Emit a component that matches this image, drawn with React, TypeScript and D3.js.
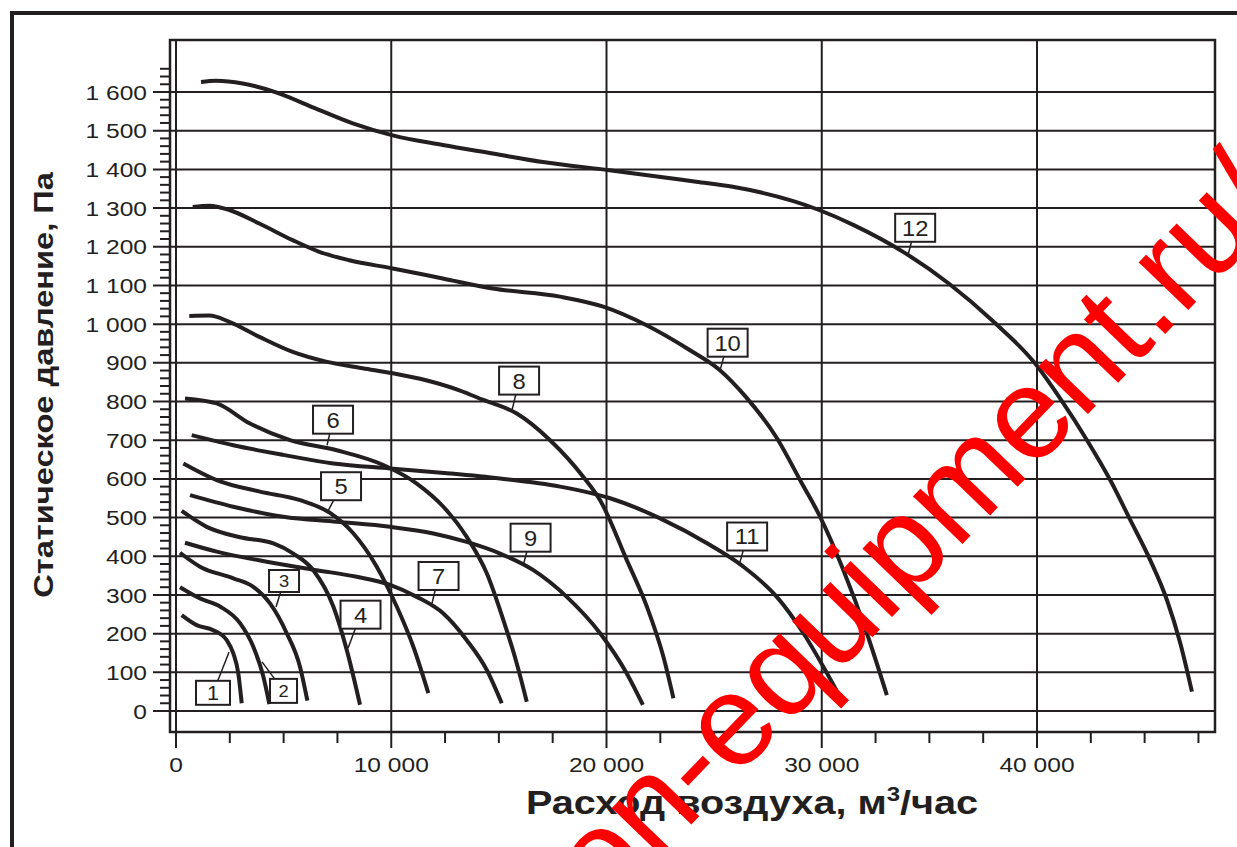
import * as d3 from 'd3';

type Pt = [number, number];

// fan curves: [air flow m3/h, static pressure Pa]
const curve1: Pt[] = [[265, 248], [962, 222], [1733, 209], [2356, 183], [2663, 149], [2895, 97], [3053, 20]];
const curve2: Pt[] = [[186, 320], [1115, 291], [2045, 270], [2974, 227], [3592, 166], [4057, 89], [4336, 18]];
const curve3: Pt[] = [[186, 409], [1115, 373], [2663, 343], [3592, 321], [4368, 278], [5144, 201], [5762, 114], [6103, 27]];
const curve4: Pt[] = [[265, 517], [1427, 476], [2974, 449], [4523, 433], [5451, 407], [6380, 364], [7310, 270], [7932, 158], [8550, 16]];
const curve5: Pt[] = [[340, 640], [1890, 597], [3903, 567], [5762, 545], [7156, 512], [8225, 460], [9326, 373], [10255, 270], [11027, 166], [11724, 46]];
const curve6: Pt[] = [[418, 808], [1891, 795], [3439, 743], [5297, 700], [7467, 674], [9633, 636], [11185, 588], [12421, 528], [13508, 450], [14438, 356], [15209, 235], [15831, 123], [16296, 24]];
const curve7: Pt[] = [[418, 435], [1891, 412], [4215, 386], [6538, 364], [8397, 347], [9944, 326], [11185, 295], [12421, 252], [13508, 183], [14438, 106], [15135, 20]];
const curve8: Pt[] = [[618, 1021], [1547, 1022], [2477, 1006], [3871, 967], [5423, 928], [6970, 903], [8676, 886], [10070, 873], [11617, 855], [13165, 829], [14280, 804], [15832, 769], [17379, 700], [18926, 605], [19703, 545], [20943, 390], [21873, 270], [22644, 140], [23109, 33]];
const curve9: Pt[] = [[651, 558], [2663, 528], [4986, 502], [7467, 489], [9944, 476], [11956, 459], [13508, 437], [15056, 407], [16604, 364], [18155, 295], [19703, 201], [20943, 97], [21687, 16]];
const curve10: Pt[] = [[776, 1303], [1547, 1306], [2477, 1295], [3871, 1260], [5423, 1217], [6659, 1187], [8053, 1165], [10070, 1144], [12393, 1118], [14716, 1092], [17844, 1071], [19851, 1045], [21859, 997], [23862, 933], [25270, 881], [26473, 812], [27876, 709], [29080, 588], [29926, 502], [31008, 364], [32096, 201], [33025, 41]];
const curve11: Pt[] = [[730, 713], [2663, 687], [4986, 662], [7310, 640], [9944, 627], [12732, 614], [15056, 601], [17844, 580], [20167, 550], [22491, 498], [24814, 429], [26361, 373], [27913, 295], [29150, 201], [30079, 114], [30934, 28]];
const curve12: Pt[] = [[1162, 1626], [1859, 1629], [3099, 1622], [4647, 1599], [6506, 1557], [8211, 1519], [10070, 1488], [12393, 1463], [14716, 1441], [17040, 1419], [20135, 1398], [24164, 1368], [25869, 1355], [29879, 1295], [31487, 1256], [33894, 1183], [35901, 1105], [37909, 1010], [39916, 898], [41120, 804], [42323, 700], [43401, 597], [44331, 494], [45260, 390], [46036, 287], [46654, 176], [47198, 50]];

const curves = [curve1, curve2, curve3, curve4, curve5, curve6, curve7, curve8, curve9, curve10, curve11, curve12];
const curveNames = ['1', '2', '3', '4', '5', '6', '7', '8', '9', '10', '11', '12'];
// label box centre and the curve point its leader points to (data units)
const labelAt: Pt[] = [[1719, 47], [4995, 52], [5019, 336], [8573, 249], [7667, 581], [7295, 753], [12198, 349], [15939, 854], [16473, 448], [25627, 952], [26533, 451], [34340, 1249]];
const leaderTo: Pt[] = [[2463, 152], [3996, 127], [4647, 269], [7993, 163], [7063, 517], [7017, 687], [11896, 279], [15613, 778], [16148, 380], [25279, 881], [26162, 377], [33996, 1176]];

const flowTicks = [0, 10000, 20000, 30000, 40000];
const flowMinor = d3.range(0, 47501, 2500);
const pressureTicks = d3.range(0, 1601, 100);
const pressureMinor = d3.range(0, 1661, 20);

const yTitle = 'Статическое давление, Па';
const xTitle = 'Расход воздуха, м';
const xTitleUnit = '/час';
const watermarkA = 'ventilation-equipment';
const watermarkB = '.ru/';

const W = 1237;
const H = 847;
const ink = '#231f20';
const font = '"Liberation Sans", Arial, sans-serif';
const stretch = 1.17; // the original lettering is wider than Arial

const x = d3.scaleLinear().domain([0, 40000]).range([176, 1037]);
const y = d3.scaleLinear().domain([0, 1600]).range([711, 92]);
const plot = { left: 170, right: 1215, top: 40, bottom: 732 };

const fmt = d3.formatLocale({ decimal: ',', thousands: ' ', grouping: [3], currency: ['', ''] }).format(',');

const line = d3
  .line<Pt>()
  .x((d) => x(d[0]))
  .y((d) => y(d[1]))
  .curve(d3.curveMonotoneX);

const boxSize = (name: string): [number, number, number] => {
  if (name === '1') return [34, 24, 20];
  if (name === '2') return [27, 24, 17];
  if (name === '3') return [30, 22, 17];
  return [40, 28, 22];
};

export default function App() {
  return (
    <svg
      width={W}
      height={H}
      style={{ position: 'absolute', left: 0, top: 0, background: '#fff' }}
      fontFamily={font}
    >
      {/* outer frame */}
      <path d={`M12,${H} V13 H${W}`} fill="none" stroke={ink} strokeWidth={4} />

      {/* horizontal grid + major y ticks */}
      {pressureTicks.map((p) => (
        <line key={'hg' + p} x1={153} x2={plot.right} y1={y(p)} y2={y(p)} stroke={ink} strokeWidth={2} />
      ))}
      {pressureMinor
        .filter((p) => p % 100 !== 0)
        .map((p) => (
          <line key={'ym' + p} x1={160} x2={plot.left} y1={y(p)} y2={y(p)} stroke={ink} strokeWidth={2} />
        ))}
      {/* vertical grid + major x ticks */}
      {flowTicks.map((f) => (
        <line key={'vg' + f} x1={x(f)} x2={x(f)} y1={plot.top} y2={748} stroke={ink} strokeWidth={2} />
      ))}
      {flowMinor
        .filter((f) => f % 10000 !== 0)
        .map((f) => (
          <line key={'xm' + f} x1={x(f)} x2={x(f)} y1={plot.bottom} y2={743} stroke={ink} strokeWidth={2} />
        ))}

      <rect
        x={plot.left}
        y={plot.top}
        width={plot.right - plot.left}
        height={plot.bottom - plot.top}
        fill="none"
        stroke={ink}
        strokeWidth={2.5}
      />

      {/* tick labels */}
      {pressureTicks.map((p) => (
        <text
          key={'yl' + p}
          transform={`translate(147,${y(p)}) scale(${stretch},1)`}
          dy="0.36em"
          textAnchor="end"
          fontSize={21}
          fill={ink}
        >
          {fmt(p)}
        </text>
      ))}
      {flowTicks.map((f) => (
        <text
          key={'xl' + f}
          transform={`translate(${x(f)},772) scale(${stretch},1)`}
          textAnchor="middle"
          fontSize={21}
          fill={ink}
        >
          {fmt(f)}
        </text>
      ))}

      {/* curves */}
      {curves.map((c, i) => (
        <path key={'c' + i} d={line(c) || ''} fill="none" stroke={ink} strokeWidth={4} />
      ))}

      {/* curve labels */}
      {curveNames.map((name, i) => {
        const [bw, bh, fs] = boxSize(name);
        const cx = x(labelAt[i][0]);
        const cy = y(labelAt[i][1]);
        return (
          <g key={'lb' + name}>
            <line x1={cx} y1={cy} x2={x(leaderTo[i][0])} y2={y(leaderTo[i][1])} stroke={ink} strokeWidth={1.5} />
            <rect x={cx - bw / 2} y={cy - bh / 2} width={bw} height={bh} fill="#fff" stroke={ink} strokeWidth={2} />
            <text
              transform={`translate(${cx},${cy}) scale(1.08,1)`}
              dy="0.36em"
              textAnchor="middle"
              fontSize={fs}
              fill={ink}
            >
              {name}
            </text>
          </g>
        );
      })}

      {/* axis titles */}
      <text
        transform={`translate(53,385) rotate(-90) scale(1.165,1)`}
        textAnchor="middle"
        fontSize={28}
        fontWeight="bold"
        fill={ink}
      >
        {yTitle}
      </text>
      <text
        transform="translate(752,814) scale(1.2,1)"
        textAnchor="middle"
        fontSize={33}
        fontWeight="bold"
        fill={ink}
      >
        {xTitle}
        <tspan fontSize={20} dy={-13}>
          3
        </tspan>
        <tspan dy={13}>{xTitleUnit}</tspan>
      </text>

      {/* watermark */}
      <g transform="translate(1157,342.5) rotate(-46)" fill="#ff0000" fontSize={130}>
        <text textAnchor="end">{watermarkA}</text>
        <text textAnchor="start">{watermarkB}</text>
      </g>
    </svg>
  );
}
